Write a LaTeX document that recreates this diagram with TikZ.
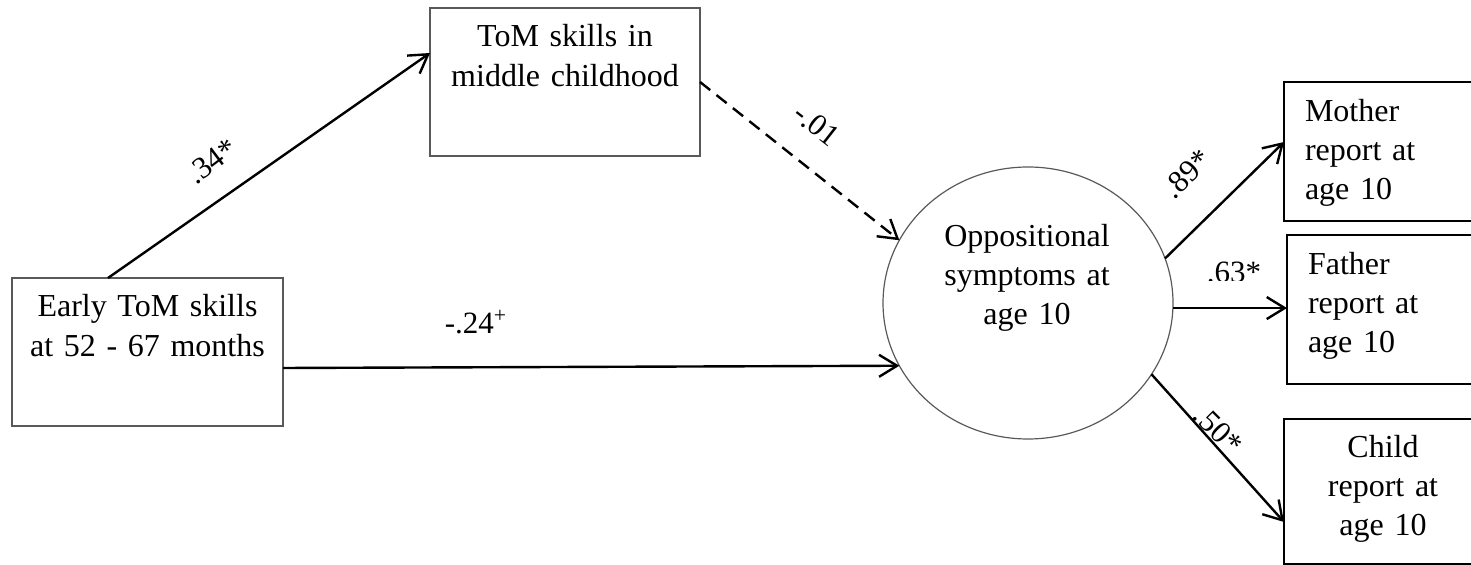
\documentclass[tikz,border=0pt]{standalone}
\usepackage{fontspec}
\setmainfont{Liberation Serif}
\usetikzlibrary{arrows.meta,calc,shapes.geometric}
\begin{document}
\begin{tikzpicture}[x=0.5pt,y=-0.5pt,
  thinbox/.style={draw=black!65, line width=0.6pt, inner sep=0pt, outer sep=0pt},
  thickbox/.style={draw=black, line width=1pt, inner sep=0pt, outer sep=0pt},
  boxtext/.style={font=\fontsize{16pt}{20pt}\selectfont, inner sep=0pt, outer sep=0pt, anchor=base, align=center, text width=140pt},
  lefttext/.style={font=\fontsize{16pt}{19.5pt}\selectfont, inner sep=0pt, outer sep=0pt, anchor=base west, align=left, text width=80pt},
  coef/.style={font=\fontsize{15.5pt}{18pt}\selectfont, inner sep=0pt},
  conn/.style={line width=1.2pt, -{Straight Barb[length=9pt,width=11pt,line width=1.2pt]}},
]
\useasboundingbox (0,0) rectangle (1471,565);
\clip (0,0) rectangle (1471,565);

% boxes
\node[thinbox, minimum width=135.5pt, minimum height=74pt] (early) at (147.5,352) {};
\node[thinbox, minimum width=135pt, minimum height=74pt] (tom) at (565,82) {};
\node[thinbox, ellipse, minimum width=145pt, minimum height=136pt] (opp) at (1028,303) {};
\node[thickbox, minimum width=108pt, minimum height=69.5pt] (mother) at (1392,151.5) {};
\node[thickbox, minimum width=106.5pt, minimum height=74.5pt] (father) at (1393.5,309.5) {};
\node[thickbox, minimum width=108pt, minimum height=72.5pt] (child) at (1392,491.5) {};

% texts
\node[boxtext] (earlyT) at (147.5,317) {Early ToM skills\\at 52 - 67 months};
\node[boxtext] (tomT) at (565,47) {ToM skills in\\middle childhood};
\node[boxtext, font=\fontsize{16pt}{19.5pt}\selectfont] (oppT) at (1027,247) {Oppositional\\symptoms at\\age 10};
\node[lefttext] (motherT) at (1305,122) {Mother\\report at\\age 10};
\node[lefttext] (fatherT) at (1308,275) {Father\\report at\\age 10};
\node[boxtext, font=\fontsize{16pt}{19.5pt}\selectfont] (childT) at (1383,458) {Child\\report at\\age 10};

% connectors
\draw[conn] ([xshift=-19.75pt]early.north) -- ([yshift=14.5pt]tom.west);
\draw[conn] ([yshift=-8pt]early.east) -- (opp.206);
\draw[conn, dash pattern=on 6.5pt off 4pt] (tom.east) -- (opp.154);
\draw[conn] (opp.18) -- ([yshift=4.75pt]mother.west);
\draw[conn] (opp.-2) -- (opp.-2 -| father.west);
\draw[conn] (opp.-30) -- ([yshift=-15.25pt]child.west);

% coefficients
\node[coef, rotate=37] (l34) at (212,161) {.34*};
\node[coef] (l24) at (476,322) {-.24\textsuperscript{+}};
\node[coef, rotate=-38] (l01) at (817,125) {-.01};
\node[coef, rotate=45] (l89) at (1187,174) {.89*};
\begin{scope}
  \clip (1195,245) rectangle (1275,280.5);
  \node[coef, anchor=base] (l63) at (1234,283) {.63*};
\end{scope}
\node[coef, rotate=-45] (l50) at (1218,430) {.50*};
\end{tikzpicture}
\end{document}
